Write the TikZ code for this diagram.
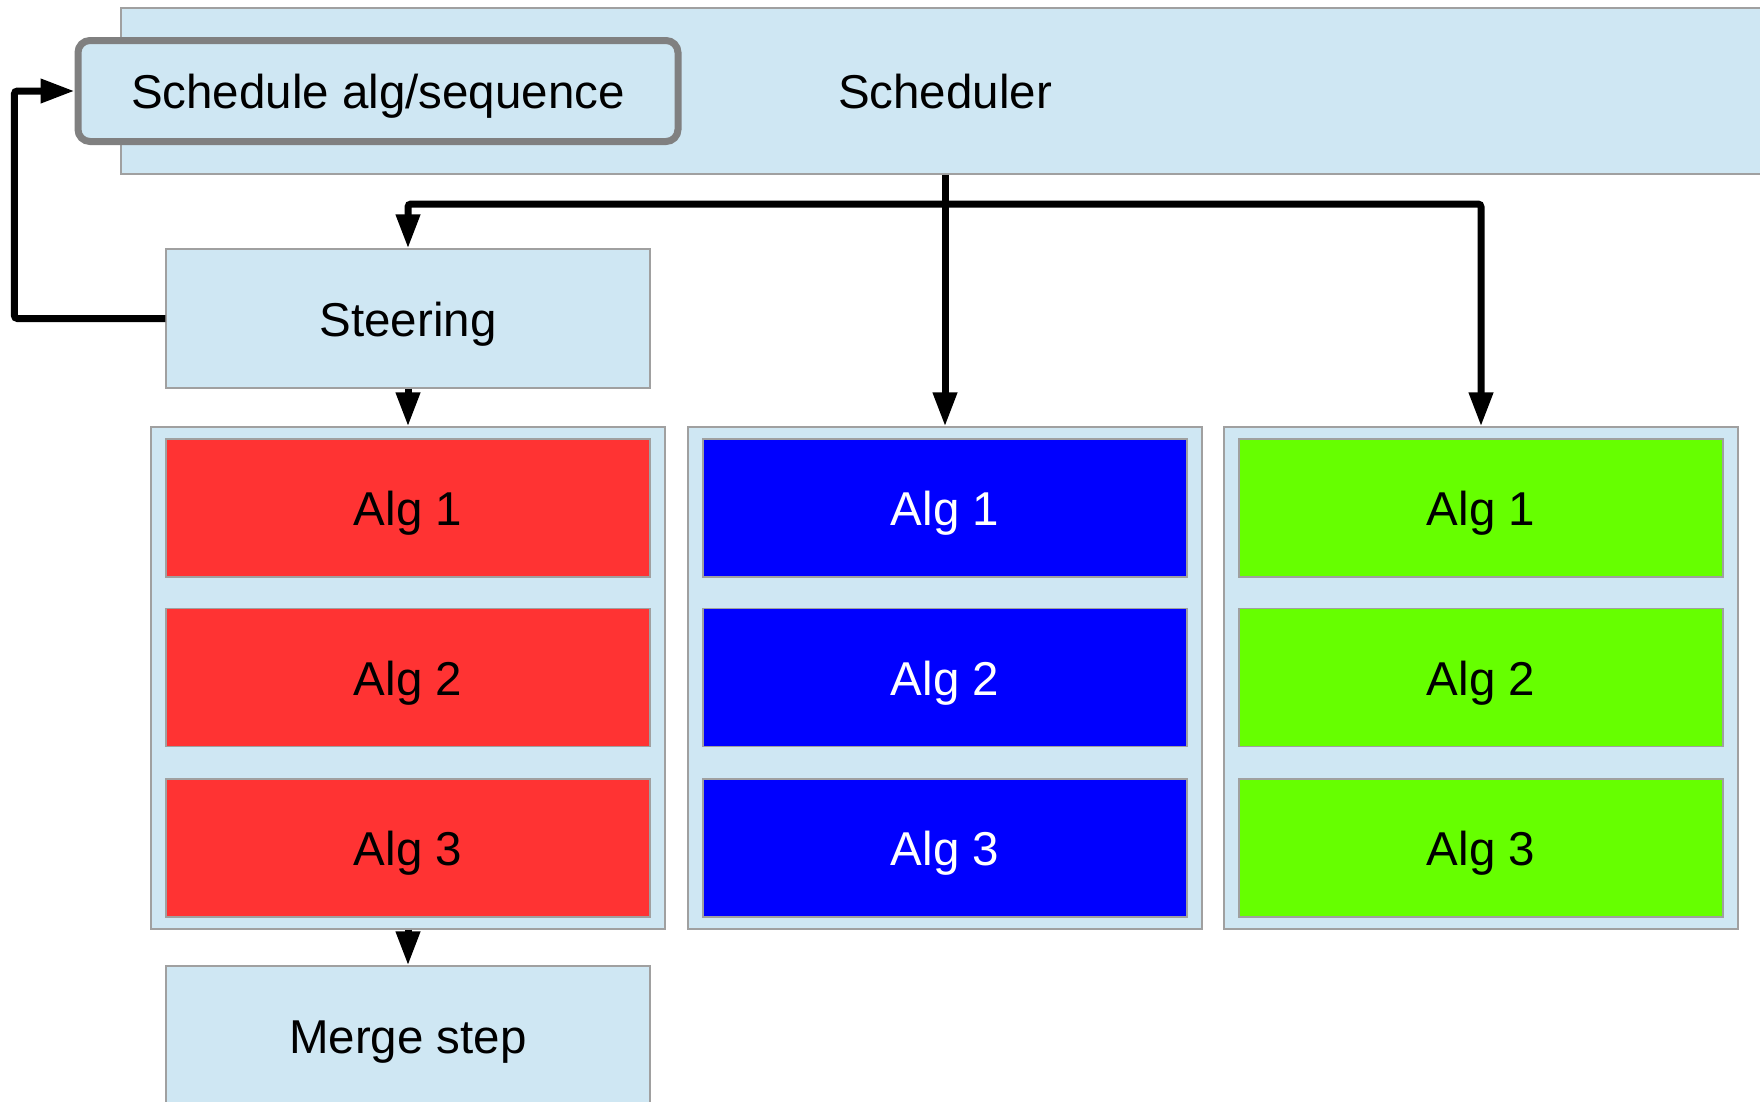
\documentclass[tikz,border=0pt]{standalone}
\usepackage{fontspec}
\setmainfont{Liberation Sans}
\usepackage{xcolor}
\usepackage{tikz}
\usetikzlibrary{arrows.meta}

\definecolor{panel}{RGB}{207,231,243}
\definecolor{edge}{RGB}{160,160,160}
\definecolor{algred}{RGB}{255,51,51}
\definecolor{algblue}{RGB}{0,0,255}
\definecolor{alggreen}{RGB}{102,255,0}

\begin{document}
\begin{tikzpicture}[x=1pt, y=-1pt,
    box/.style={draw=edge, line width=1.2pt, fill=panel, rectangle, inner sep=0pt, text height=35pt, text depth=0pt, font=\fontsize{47.5}{57}\selectfont},
    algbox/.style={box, minimum width=484pt, minimum height=138pt},
    flow/.style={line width=7pt, -{Triangle[length=34pt,width=23pt]}, rounded corners=3pt}]
    \useasboundingbox (0,0) rectangle (1760,1101);

    % Scheduler
    \node[box, minimum width=1648pt, minimum height=166pt] (sched) at (945,91) {Scheduler};
    \node[box, draw=gray, line width=7pt, rounded corners=12pt, minimum width=600pt, minimum height=101pt] (schedalg) at (378,91) {Schedule alg/sequence};

    % Steering
    \node[box, minimum width=484pt, minimum height=139pt] (steer) at (408,318.5) {Steering};

    % Algorithm columns
    \foreach \col/\cx/\fcol/\tcol in {1/408/algred/black, 2/945/algblue/white, 3/1481/alggreen/black} {
        \node[box, minimum width=514pt, minimum height=502pt] (ctr\col) at (\cx,678) {};
        \foreach \row/\cy in {1/508, 2/677.5, 3/848}
            \node[algbox, fill=\fcol, text=\tcol] (alg\col\row) at (\cx,\cy) {Alg \row};
    }

    % Merge step
    \node[box, minimum width=484pt, minimum height=139pt] (merge) at (408,1035.5) {Merge step};

    % Arrows
    \coordinate (split) at (945,204);
    \draw[flow] (sched.south) -- (ctr2.north);
    \draw[flow] (split) -| (steer.north);
    \draw[flow] (split) -| (ctr3.north);
    \draw[flow] (steer.south) -- (ctr1.north);
    \draw[flow] (ctr1.south) -- (merge.north);
    \draw[flow] (steer.west) -- ++(-151,0) |- (schedalg.west);
\end{tikzpicture}
\end{document}
